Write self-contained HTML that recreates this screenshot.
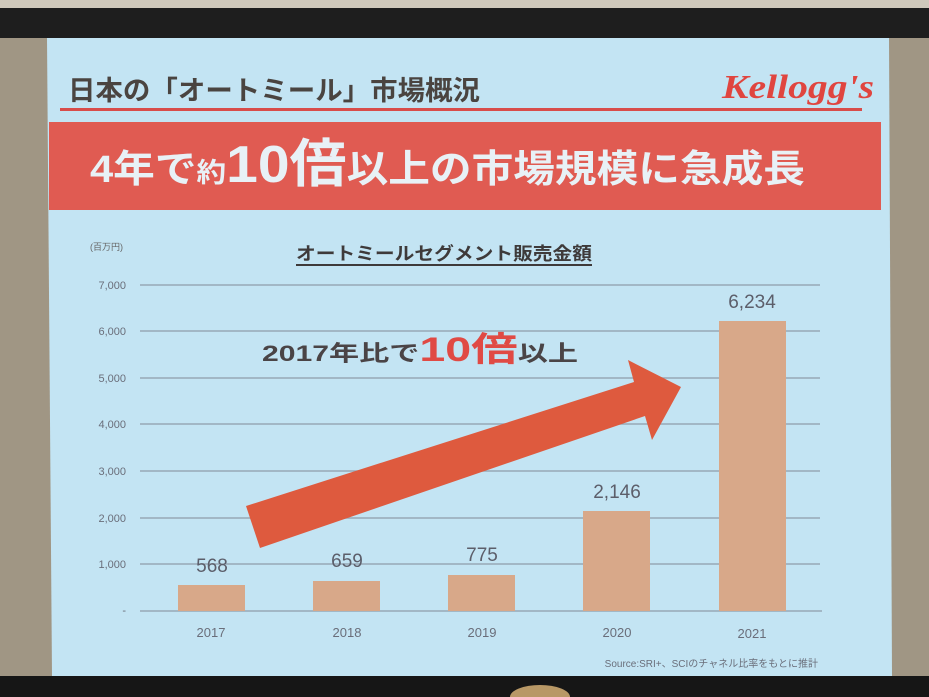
<!DOCTYPE html>
<html><head><meta charset="utf-8"><style>
html,body{margin:0;padding:0;background:#1c1c1c;}
svg{display:block}
</style></head><body>
<svg width="929" height="697" viewBox="0 0 929 697" xmlns="http://www.w3.org/2000/svg" font-family="'Liberation Sans','Noto Sans CJK JP',sans-serif">
<rect x="0" y="0" width="929" height="697" fill="#a09684"/>
<rect x="0" y="0" width="929" height="8" fill="#cfc8bb"/>
<rect x="0" y="8" width="929" height="30" fill="#1e1e1e"/>
<polygon points="47,38 889,38 892,676 52,676" fill="#c3e4f3"/>
<rect x="0" y="676" width="929" height="21" fill="#161616"/>
<ellipse cx="540" cy="697" rx="30" ry="12" fill="#b89866"/>
<text x="68" y="100" font-size="27" font-weight="bold" fill="#4a4440" textLength="412" lengthAdjust="spacingAndGlyphs">日本の「オートミール」市場概況</text>
<text x="722" y="98" font-size="34" font-style="italic" font-weight="bold" fill="#e0453f" font-family="'Liberation Serif',serif" textLength="152" lengthAdjust="spacingAndGlyphs">Kellogg's</text>
<rect x="60" y="108" width="802" height="3" fill="#d84c4a"/>
<rect x="49" y="122" width="832" height="88" fill="#e05b52"/>
<text x="90" y="182" font-size="38" font-weight="bold" fill="#e8f1f6" textLength="715" lengthAdjust="spacingAndGlyphs">4年で<tspan font-size="27">約</tspan><tspan font-size="52">10倍</tspan>以上の市場規模に急成長</text>
<text x="90" y="250" font-size="9" fill="#666">(百万円)</text>
<text x="296" y="260" font-size="18" font-weight="bold" fill="#3e3a3a" textLength="296" lengthAdjust="spacingAndGlyphs">オートミールセグメント販売金額</text>
<rect x="296" y="264" width="296" height="2" fill="#3e3a3a"/>
<g stroke="#98a8b6" stroke-width="1.5">
<line x1="140" y1="285" x2="820" y2="285"/>
<line x1="140" y1="331" x2="820" y2="331"/>
<line x1="140" y1="378" x2="820" y2="378"/>
<line x1="140" y1="424" x2="820" y2="424"/>
<line x1="140" y1="471" x2="820" y2="471"/>
<line x1="140" y1="518" x2="820" y2="518"/>
<line x1="140" y1="564" x2="820" y2="564"/>
<line x1="140" y1="611" x2="822" y2="611"/>
</g>
<g font-size="11" fill="#6a6e7a" text-anchor="end">
<text x="126" y="289">7,000</text><text x="126" y="335">6,000</text><text x="126" y="382">5,000</text>
<text x="126" y="428">4,000</text><text x="126" y="475">3,000</text><text x="126" y="522">2,000</text>
<text x="126" y="568">1,000</text><text x="126" y="614">-</text>
</g>
<g fill="#d8a889">
<rect x="178" y="585" width="67" height="26"/>
<rect x="313" y="581" width="67" height="30"/>
<rect x="448" y="575" width="67" height="36"/>
<rect x="583" y="511" width="67" height="100"/>
<rect x="719" y="321" width="67" height="290"/>
</g>
<g font-size="19" fill="#5c5e6a" text-anchor="middle">
<text x="212" y="572">568</text><text x="347" y="567">659</text><text x="482" y="561">775</text>
<text x="617" y="498">2,146</text><text x="752" y="308">6,234</text>
</g>
<g font-size="13" fill="#6a6e7a" text-anchor="middle">
<text x="211" y="637">2017</text><text x="347" y="637">2018</text><text x="482" y="637">2019</text>
<text x="617" y="637">2020</text><text x="752" y="638">2021</text>
</g>
<polygon points="246,506 634,382 628,360 681,387 652,440 645,416 260,548" fill="#de5a3e"/>
<text x="262" y="361" font-size="22" font-weight="bold" fill="#4a4446" textLength="316" lengthAdjust="spacingAndGlyphs">2017年比で<tspan font-size="34" fill="#e04a44">10倍</tspan>以上</text>
<text x="818" y="667" font-size="10" fill="#6a6e7a" text-anchor="end">Source:SRI+、SCIのチャネル比率をもとに推計</text>
</svg>
</body></html>
